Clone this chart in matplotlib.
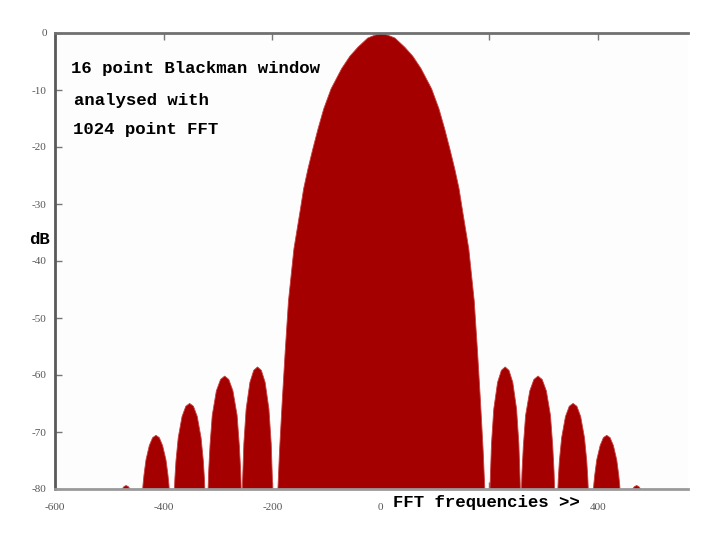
import matplotlib
matplotlib.use('Agg')
import matplotlib.pyplot as plt
import numpy as np

# ----- data (FFT bin, dB) -----
# main lobe
main_x = [-190.5, -187.5, -182.5, -177, -171, -161, -155, -149, -143, -135,
          -126, -116.5, -106, -92.5, -73, -58, -43, -25, -12, 0,
          12, 25, 43, 58, 73, 92.5, 106, 116.5, 126, 135,
          143, 149, 155, 161, 171, 177, 182.5, 187.5, 190.5]
main_db = [-80, -73.3, -64.5, -55.7, -46.9, -37.8, -34.3, -30.8, -27.2, -23.7,
           -20.2, -16.7, -13.2, -9.7, -6.15, -4.0, -2.4, -0.8, -0.3, 0,
           -0.3, -0.8, -2.4, -4.0, -6.15, -9.7, -13.2, -16.7, -20.2, -23.7,
           -27.2, -30.8, -34.3, -37.8, -46.9, -55.7, -64.5, -73.3, -80]

# side lobes on the positive side (the spectrum is symmetric)
lobe1_x = [200, 200.8, 202.8, 207, 214, 221, 228, 235, 242, 249, 253.2, 255.2, 256]
lobe1_db = [-80, -77.7, -72.0, -65.9, -61.2, -59.1, -58.5, -59.1, -61.2, -65.9, -72.0, -77.7, -80]

lobe2_x = [258, 259, 261.5, 265.6, 273.3, 280.9, 288.5, 296.1, 303.8, 311.4, 315.5, 318, 319]
lobe2_db = [-80, -76.9, -72.3, -67.0, -62.7, -60.7, -60.1, -60.7, -62.7, -67.0, -72.3, -76.9, -80]

lobe3_x = [325, 325.8, 327.8, 332, 339, 346, 353, 360, 367, 374, 378.2, 380.2, 381]
lobe3_db = [-80, -78.1, -75.0, -70.9, -67.2, -65.4, -64.9, -65.4, -67.2, -70.9, -75.0, -78.1, -80]

lobe4_x = [390.5, 391.2, 393, 396.6, 402.8, 408.9, 415, 421.1, 427.3, 433.4, 437, 438.8, 439.5]
lobe4_db = [-80, -79.1, -77.4, -74.8, -72.3, -70.9, -70.5, -70.9, -72.3, -74.8, -77.4, -79.1, -80]

lobe5_x = [462, 466, 470, 474, 478]
lobe5_db = [-80, -79.5, -79.3, -79.5, -80]

xticks = [-600, -400, -200, 0, 200, 400]
yticks = [0, -10, -20, -30, -40, -50, -60, -70, -80]

red = '#a40000'

fig = plt.figure(figsize=(7.2, 5.4), dpi=100)
ax = fig.add_axes([55 / 720, 1 - 489 / 540, 632.7 / 720, 456 / 540])
ax.set_facecolor('#fdfdfd')

ax.fill_between(main_x, main_db, -80, color=red, lw=0.6, ec='#c84040')
for lx, ld in [(lobe1_x, lobe1_db), (lobe2_x, lobe2_db), (lobe3_x, lobe3_db),
               (lobe4_x, lobe4_db), (lobe5_x, lobe5_db)]:
    lx = np.array(lx)
    ld = np.array(ld)
    ax.fill_between(lx, ld, -80, color=red, lw=0.6, ec='#c84040')
    ax.fill_between(-lx[::-1], ld[::-1], -80, color=red, lw=0.6, ec='#c84040')

ax.set_xlim(-600, 565)
ax.set_ylim(-80, 0)

ax.spines['right'].set_visible(False)
ax.spines['left'].set_color('#5a5a5a')
ax.spines['left'].set_linewidth(2)
ax.spines['top'].set_color('#707070')
ax.spines['top'].set_linewidth(2)
ax.spines['bottom'].set_color('#9a9a9a')
ax.spines['bottom'].set_linewidth(2)
ax.spines['bottom'].set_zorder(3)

ax.set_xticks(xticks)
ax.set_xticklabels([str(t) for t in xticks])
ax.get_xticklabels()[4].set_visible(False)
ax.set_yticks(yticks)
ax.set_yticklabels([str(t) for t in yticks])
ax.set_axisbelow(True)
ax.tick_params(axis='both', direction='in', length=5, width=1, color='#777777',
               labelcolor='#555555', labelsize=8, top=True)
ax.tick_params(axis='x', pad=10)
ax.tick_params(axis='y', pad=6)
for lab in ax.get_xticklabels() + ax.get_yticklabels():
    lab.set_family('Liberation Serif')

mono = dict(family='Liberation Mono', weight='bold', fontsize=12.5, color='black')
ax.text(0.025, 0.923, '16 point Blackman window', transform=ax.transAxes, va='center', **mono)
ax.text(0.03, 0.853, 'analysed with', transform=ax.transAxes, va='center', **mono)
ax.text(0.029, 0.789, '1024 point FFT', transform=ax.transAxes, va='center', **mono)

fig.text(393 / 720, 1 - 502 / 540, 'FFT frequencies >>', va='center', ha='left', **mono)
fig.text(40 / 720, 1 - 239 / 540, 'dB', va='center', ha='center', **mono)

fig.savefig('out.png', dpi=100, facecolor='white')
